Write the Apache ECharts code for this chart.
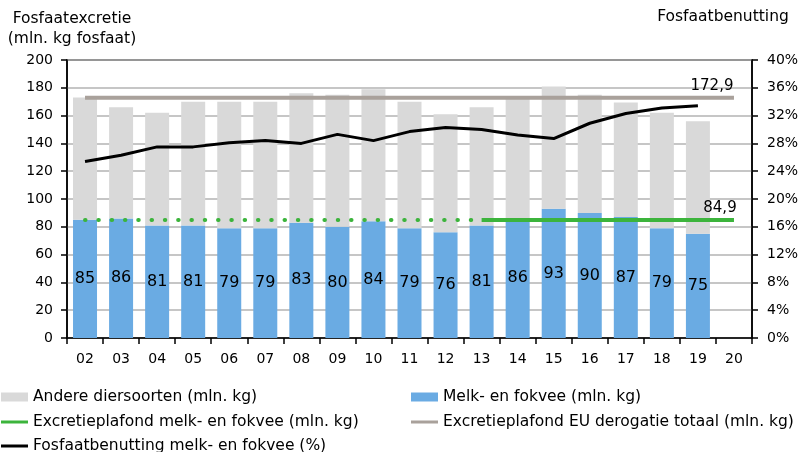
<!DOCTYPE html>
<html><head><meta charset="utf-8">
<script src="https://cdn.jsdelivr.net/npm/echarts@6/dist/echarts.min.js"></script>
<style>html,body{margin:0;padding:0;background:#fff}#c{width:805px;height:452px}</style>
</head><body><div id="c"></div>
<script>
var categories = ['02','03','04','05','06','07','08','09','10','11','12','13','14','15','16','17','18','19','20'];
var melkFokvee = [85,86,81,81,79,79,83,80,84,79,76,81,86,93,90,87,79,75,null];
var andereDiersoorten = [88,80,81,89,91,91,93,95,95,91,85,85,87,88,85,82.5,83,81,null];
var benutting = [25.4,26.3,27.5,27.5,28.1,28.4,28.0,29.3,28.4,29.7,30.3,30.0,29.2,28.7,30.9,32.3,33.1,33.4,null];
var plafondMelk = 84.9;
var plafondEU = 172.9;
var leftTicks = [0,200,20];
var rightTicks = [0,40,4];

var font = 'DejaVu Sans, Verdana, sans-serif';
var n = categories.length;
var eu = categories.map(function(){return plafondEU;});
var melkDotted = categories.map(function(c,i){return i<=11?plafondMelk:'-';});
var melkSolid = categories.map(function(c,i){return i>=11?plafondMelk:'-';});

function endMark(val, txt, off){
  return {symbol:'circle',symbolSize:0,silent:true,
    data:[{coord:[categories[n-1],val],
      label:{show:true,position:'top',formatter:txt,offset:off,color:'#000',fontSize:15,fontFamily:font,distance:4}}]};
}

var chart = echarts.init(document.getElementById('c'));
var leg = function(name,left,top,icon,w,h){
  return {data:[{name:name,icon:icon}],left:left,top:top,itemWidth:w,itemHeight:h,padding:0,
    textStyle:{fontFamily:font,fontSize:15.5,color:'#000'}};
};
chart.setOption({
  animation:false,
  textStyle:{fontFamily:font},
  grid:{left:67,right:53,top:60,bottom:114,show:true,borderColor:'#000',borderWidth:1.5,backgroundColor:'transparent'},
  legend:[
    leg('Andere diersoorten (mln. kg)',1,389,'rect',27,9),
    leg('Melk- en fokvee (mln. kg)',411,389,'rect',27,9),
    leg('Excretieplafond melk- en fokvee (mln. kg)',1,414,'rect',27,3),
    leg('Excretieplafond EU derogatie totaal (mln. kg)',411,414,'rect',27,3),
    leg('Fosfaatbenutting melk- en fokvee (%)',1,438,'rect',27,3)
  ],
  graphic:[
    {type:'text',style:{text:'Fosfaatexcretie\n(mln. kg fosfaat)',x:72,y:9,textAlign:'center',font:'15.5px '+font,fill:'#000',lineHeight:20}},
    {type:'text',style:{text:'Fosfaatbenutting',x:723,y:9,textAlign:'center',font:'15.5px '+font,fill:'#000'}}
  ],
  xAxis:{type:'category',data:categories,boundaryGap:true,
    axisLine:{lineStyle:{color:'#000',width:1.5}},
    axisTick:{show:true,length:6,lineStyle:{color:'#000',width:1.5}},
    axisLabel:{color:'#000',fontSize:14,fontFamily:font,margin:14}},
  yAxis:[
    {type:'value',min:leftTicks[0],max:leftTicks[1],interval:leftTicks[2],
      axisLine:{show:true,lineStyle:{color:'#000',width:1.5}},
      axisTick:{show:true,length:6,lineStyle:{color:'#000',width:1.5}},
      axisLabel:{color:'#000',fontSize:14,fontFamily:font,margin:14},
      splitLine:{lineStyle:{color:'#b3b3b3',width:1.5}}},
    {type:'value',min:rightTicks[0],max:rightTicks[1],interval:rightTicks[2],
      axisLine:{show:true,lineStyle:{color:'#000',width:1.5}},
      axisTick:{show:true,length:6,lineStyle:{color:'#000',width:1.5}},
      axisLabel:{color:'#000',fontSize:14,fontFamily:font,margin:15,formatter:'{value}%'},
      splitLine:{show:false}}
  ],
  series:[
    {name:'Melk- en fokvee (mln. kg)',type:'bar',stack:'t',data:melkFokvee,barWidth:24,
      itemStyle:{color:'#6aabe3'},
      label:{show:true,position:'inside',color:'#000',fontSize:16,fontFamily:font}},
    {name:'Andere diersoorten (mln. kg)',type:'bar',stack:'t',data:andereDiersoorten,barWidth:24,
      itemStyle:{color:'#d9d9d9'}},
    {name:'Excretieplafond EU derogatie totaal (mln. kg)',type:'line',data:eu,
      symbol:'none',lineStyle:{color:'#a9a19b',width:4},itemStyle:{color:'#a9a19b'},z:3,
      markPoint:endMark(plafondEU,'172,9',[-22,0])},
    {name:'Excretieplafond melk- en fokvee (mln. kg)',type:'line',data:melkDotted,symbol:'none',
      lineStyle:{color:'#3cb43c',width:4,type:[0.5,12.8],cap:'round'},itemStyle:{color:'#3cb43c'},z:3},
    {name:'Excretieplafond melk- en fokvee (mln. kg)',type:'line',data:melkSolid,symbol:'none',
      lineStyle:{color:'#3cb43c',width:4},itemStyle:{color:'#3cb43c'},z:3,
      markPoint:endMark(plafondMelk,'84,9',[-14,0])},
    {name:'Fosfaatbenutting melk- en fokvee (%)',type:'line',yAxisIndex:1,data:benutting,symbol:'none',
      lineStyle:{color:'#000',width:3},itemStyle:{color:'#000'},z:4}
  ]
});
</script></body></html>
